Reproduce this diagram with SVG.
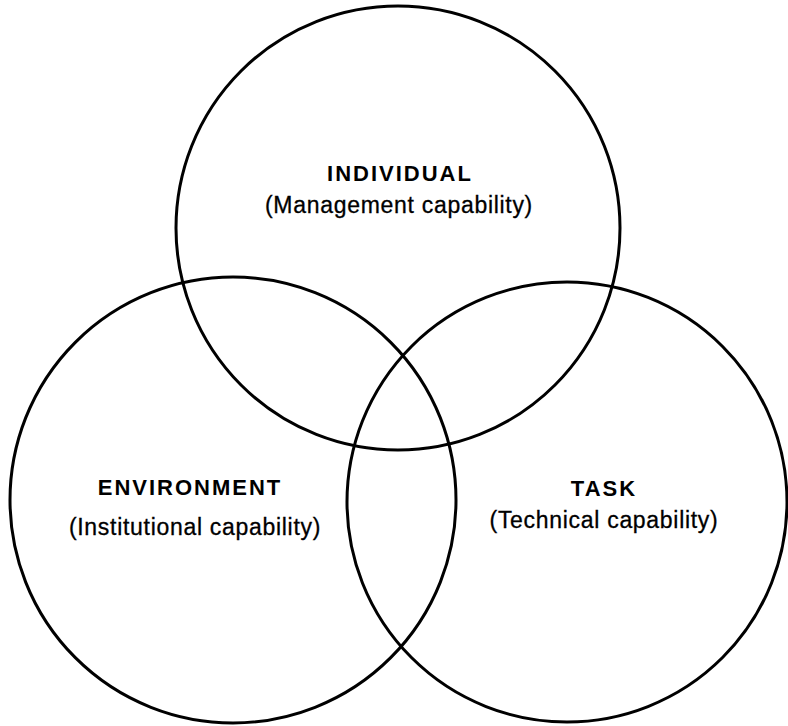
<svg xmlns="http://www.w3.org/2000/svg" width="788" height="726" viewBox="0 0 788 726">
  <style>
    .ring { fill: none; stroke: #000; stroke-width: 3; }
    .head { font-family: "Liberation Sans", Arial, sans-serif; font-weight: bold; font-size: 22px; letter-spacing: 2px; text-anchor: middle; fill: #000; }
    .sub { font-family: "Liberation Sans", Arial, sans-serif; font-size: 23px; letter-spacing: 0.7px; text-anchor: middle; fill: #000; stroke: #000; stroke-width: 0.3; }
  </style>
  <rect width="788" height="726" fill="#fff"/>
  <g id="individual">
    <circle class="ring" cx="398" cy="228" r="222"/>
    <text class="head" x="400" y="181">INDIVIDUAL</text>
    <text class="sub" x="399" y="213">(Management capability)</text>
  </g>
  <g id="environment">
    <circle class="ring" cx="233" cy="500" r="223"/>
    <text class="head" x="190" y="495">ENVIRONMENT</text>
    <text class="sub" x="195" y="535">(Institutional capability)</text>
  </g>
  <g id="task">
    <circle class="ring" cx="567" cy="502" r="220"/>
    <text class="head" x="604" y="496">TASK</text>
    <text class="sub" x="604" y="528">(Technical capability)</text>
  </g>
</svg>
